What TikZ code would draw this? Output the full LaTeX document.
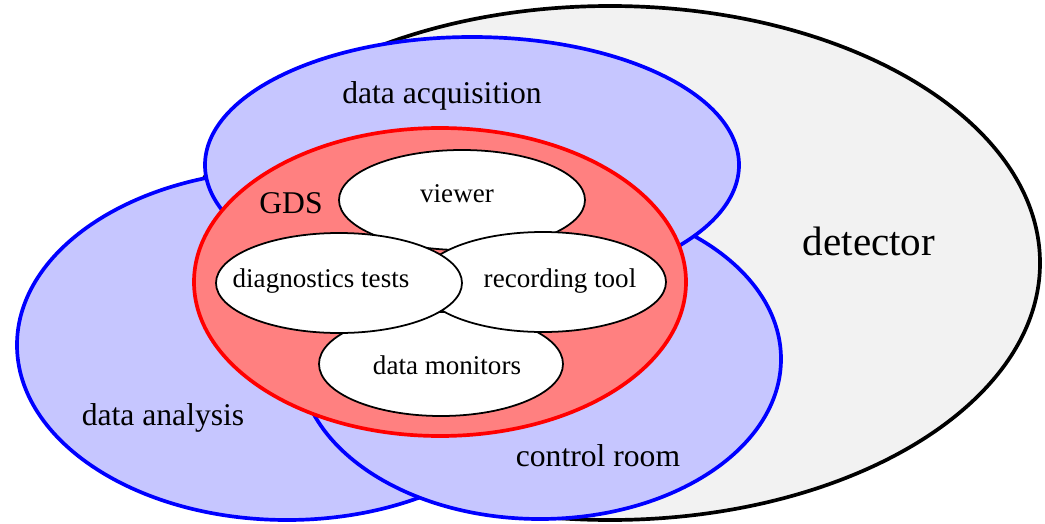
\documentclass[tikz,border=0pt]{standalone}
\usepackage{fontspec}
\setmainfont{Liberation Serif}
\usetikzlibrary{positioning}
\definecolor{zoneblue}{HTML}{C6C6FF}
\definecolor{gdsred}{HTML}{FF8080}
\definecolor{stipple}{HTML}{F2F2F2}
\tikzset{
  zone/.style={draw=blue, fill=zoneblue, line width=2.1pt},
  tool/.style={draw=black, fill=white, line width=1pt},
  lbl/.style={anchor=base, inner sep=0pt, font=\fontsize{18}{20}\selectfont},
  smalllbl/.style={anchor=base, inner sep=0pt, font=\fontsize{15.4}{17}\selectfont},
}

\begin{document}
\begin{tikzpicture}[x=0.02cm, y=-0.02cm]
    \useasboundingbox (0,0) rectangle (1045,524);
    % Ellipsen in Pixeln: Mitte, Halbachsen (von unten nach oben gestapelt)
    \filldraw[fill=stipple, draw=black, line width=2.1pt] (610,263) ellipse [x radius=430, y radius=257];
    \filldraw[zone] (287,345) ellipse [x radius=270, y radius=175];
    \filldraw[zone] (540,359) ellipse [x radius=241, y radius=160];
    \filldraw[zone] (472,165) ellipse [x radius=267, y radius=128];
    \filldraw[draw=red, fill=gdsred, line width=2.1pt] (440,282) ellipse [x radius=246, y radius=154];
    \filldraw[tool] (462,200) ellipse [x radius=123, y radius=50];
    \filldraw[tool] (441,364) ellipse [x radius=122, y radius=52];
    \filldraw[tool] (543,282) ellipse [x radius=123, y radius=50];
    \filldraw[tool] (339,283) ellipse [x radius=123, y radius=50];
    \node[lbl] (acq) at (442,103) {data acquisition};
    \node[lbl, font=\fontsize{23.4}{26}\selectfont] (det) at (869,255) {detector};
    \node[lbl] (gds) at (291,213) {GDS};
    \node[lbl] (ana) at (163,425) {data analysis};
    \node[lbl] (ctrl) at (598,466) {control room};
    \node[smalllbl] (view) at (457,202) {viewer};
    \node[smalllbl] (diag) at (321,287) {diagnostics tests};
    \node[smalllbl] (rec) at (560,287) {recording tool};
    \node[smalllbl] (mon) at (447,374) {data monitors};
\end{tikzpicture}
\end{document}
